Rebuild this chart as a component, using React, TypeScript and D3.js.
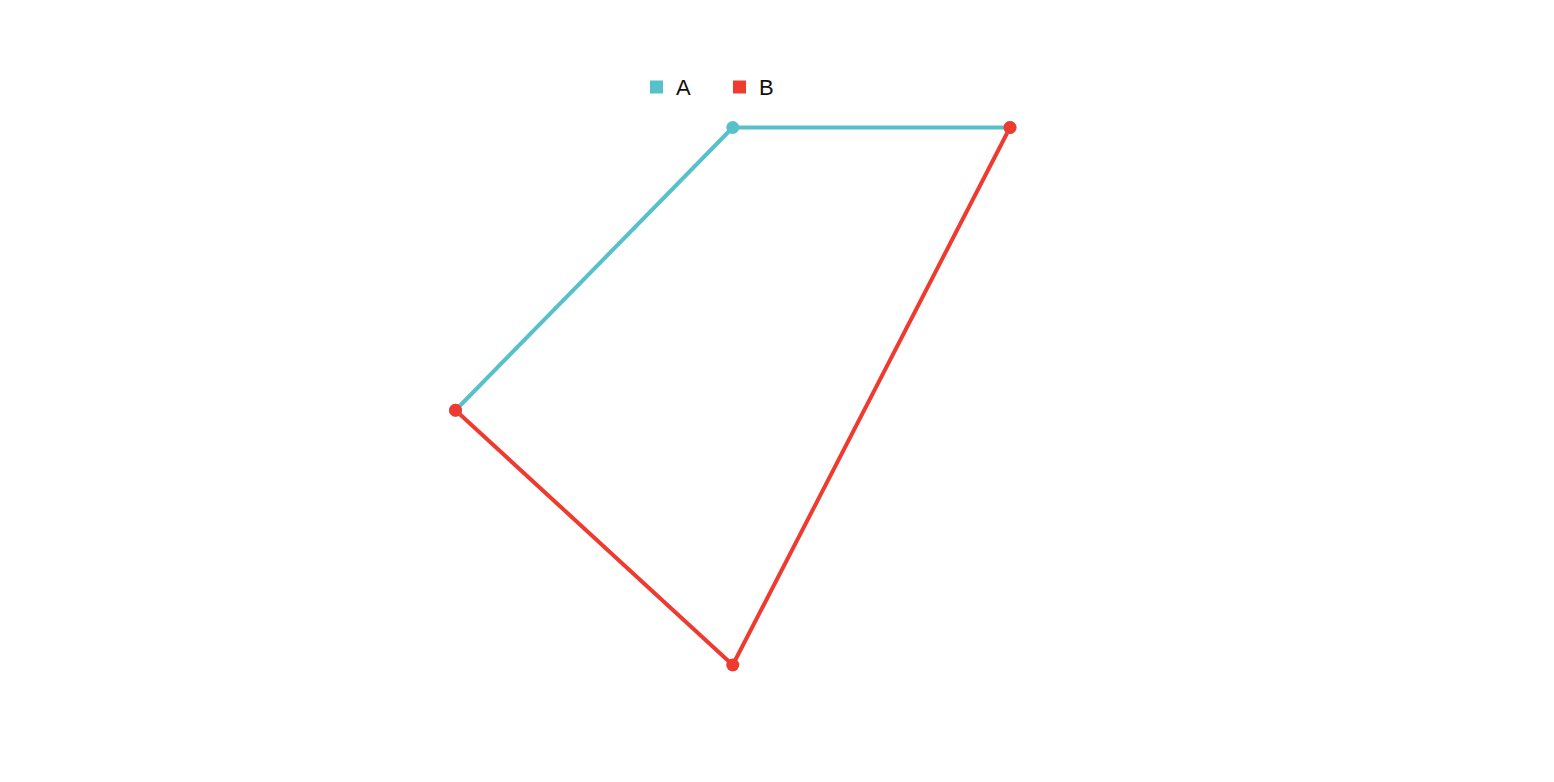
import React from "react";
import * as d3 from "d3";

// index along the horizontal axis (0, 1, 2) and value
const xSteps = [0, 1, 2];
const seriesA = [
    { x: 0, y: 47.4 },
    { x: 1, y: 100 },
    { x: 2, y: 100 },
];
const seriesB = [
    { x: 2, y: 100 },
    { x: 1, y: 0 },
    { x: 0, y: 47.4 },
];
const seriesNames = ["A", "B"];
const seriesColors = ["#57c1cb", "#ef3b2f"];

const WIDTH = 1554;
const HEIGHT = 782;

export default function App() {
    const margin = { top: 127.5, right: 544, bottom: 117, left: 455.5 };
    const xScale = d3.scaleLinear()
        .domain(d3.extent(xSteps) as [number, number])
        .range([margin.left, WIDTH - margin.right]);
    const yScale = d3.scaleLinear()
        .domain([0, 100])
        .range([HEIGHT - margin.bottom, margin.top]);

    const lineGen = d3.line<{ x: number; y: number }>()
        .x(d => xScale(d.x))
        .y(d => yScale(d.y));

    const all = [seriesA, seriesB];

    return (
        <div style={{ position: "fixed", left: 0, top: 0 }}>
            <svg width={WIDTH} height={HEIGHT} style={{ display: "block", background: "#fff" }}>
                {all.map((s, i) => (
                    <path key={`l${i}`} d={lineGen(s) || ""} fill="none"
                        stroke={seriesColors[i]} strokeWidth={4} strokeLinejoin="round" />
                ))}
                {all.map((s, i) => (
                    <g key={`p${i}`}>
                        {s.map((d, j) => (
                            <circle key={j} cx={xScale(d.x)} cy={yScale(d.y)} r={6.5}
                                fill={seriesColors[i]} />
                        ))}
                    </g>
                ))}
                {/* legend */}
                <g transform="translate(650,87)" fontFamily="'Liberation Sans', Arial, sans-serif" fontSize={22}>
                    {seriesNames.map((name, i) => (
                        <g key={name} transform={`translate(${i * 83},0)`}>
                            <rect x={0} y={-6.5} width={13} height={13} fill={seriesColors[i]} />
                            <text x={26} y={0} dy="0.36em" fill="#111">{name}</text>
                        </g>
                    ))}
                </g>
            </svg>
        </div>
    );
}
